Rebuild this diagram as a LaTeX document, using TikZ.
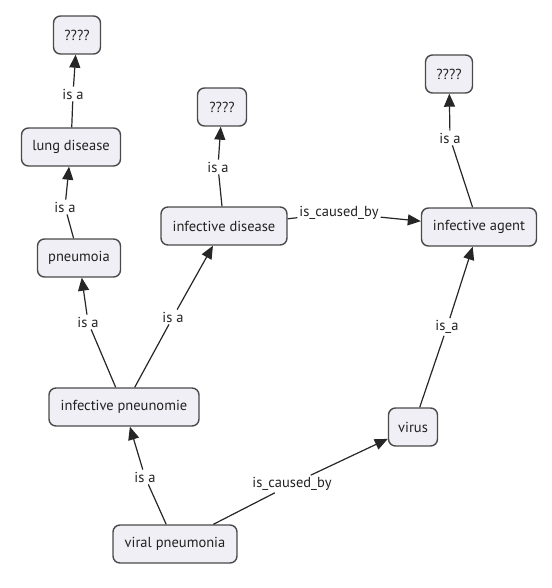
\documentclass[tikz,border=0pt]{standalone}
\usepackage{fontspec}
\setmainfont{PT Sans}
\usetikzlibrary{arrows.meta}
\definecolor{boxfill}{HTML}{EFEFF5}
\definecolor{boxline}{HTML}{4A4A4A}
\definecolor{txt}{HTML}{222222}
\begin{document}
\begin{tikzpicture}[x=1pt,y=-1pt,
  concept/.style={draw=boxline, line width=1.4pt, rounded corners=7pt, fill=boxfill,
    minimum height=38pt, inner xsep=5pt, text=txt, font=\fontsize{14.5}{17}\selectfont},
  lbl/.style={inner sep=2pt, text=txt, font=\fontsize{14.5}{17}\selectfont},
  link/.style={draw=black!85, line width=1.2pt},
  arr/.style={link, -{Triangle[length=13pt,width=11pt]}}
]
\useasboundingbox (0,0) rectangle (551,588);
% concepts
\node[concept, minimum width=47pt] (q1) at (77,35) {????};
\node[concept, minimum width=99pt] (lung) at (71,147) {lung disease};
\node[concept, minimum width=83pt] (pneu) at (79,258) {pneumoia};
\node[concept, minimum width=49pt] (q2) at (222,107) {????};
\node[concept, minimum width=126pt] (infd) at (224,226) {infective disease};
\node[concept, minimum width=115pt] (infa) at (479,227) {infective agent};
\node[concept, minimum width=47pt] (q3) at (449,74) {????};
\node[concept, minimum width=150pt] (infp) at (124,407) {infective pneunomie};
\node[concept, minimum width=124pt] (vir) at (175,544) {viral pneumonia};
\node[concept, minimum width=49pt] (virus) at (413,427) {virus};
% link labels
\node[lbl] (l1) at (73,94) {is a};
\node[lbl] (l2) at (65,207) {is a};
\node[lbl] (l3) at (88,322) {is a};
\node[lbl] (l4) at (173,317) {is a};
\node[lbl] (l5) at (218,167) {is a};
\node[lbl] (l6) at (339,213) {is\_caused\_by};
\node[lbl] (l7) at (450,138) {is a};
\node[lbl] (l8) at (447,327) {is\_a};
\node[lbl] (l9) at (145,477) {is a};
\node[lbl] (l10) at (292,484) {is\_caused\_by};
% connectors
\draw[link] (lung) -- (l1); \draw[arr] (l1) -- (q1);
\draw[link] (pneu) -- (l2); \draw[arr] (l2) -- (lung);
\draw[link] (infp) -- (l3); \draw[arr] (l3) -- (pneu);
\draw[link] (infp) -- (l4); \draw[arr] (l4) -- (infd);
\draw[link] (infd) -- (l5); \draw[arr] (l5) -- (q2);
\draw[link] (infd) -- (l6); \draw[arr] (l6) -- (infa);
\draw[link] (infa) -- (l7); \draw[arr] (l7) -- (q3);
\draw[link] (virus) -- (l8); \draw[arr] (l8) -- (infa);
\draw[link] (vir) -- (l9); \draw[arr] (l9) -- (infp);
\draw[link] (vir) -- (l10); \draw[arr] (l10) -- (virus);
\end{tikzpicture}
\end{document}
